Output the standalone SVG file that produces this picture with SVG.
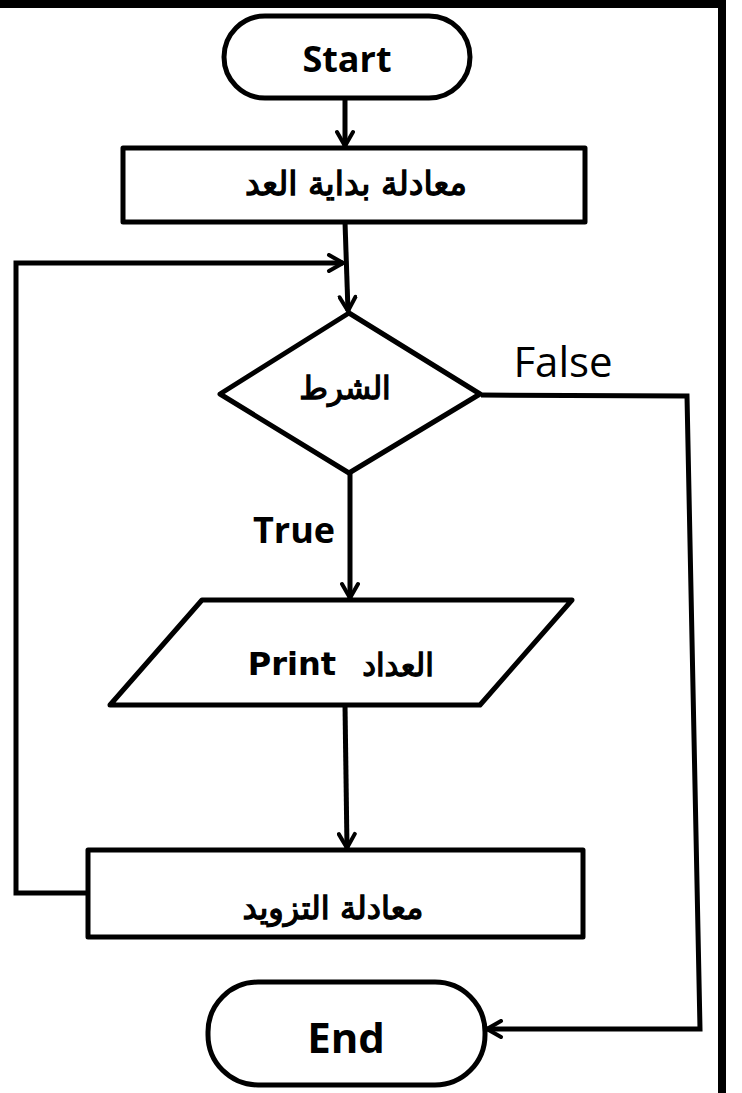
<svg xmlns="http://www.w3.org/2000/svg" width="742" height="1093" viewBox="0 0 742 1093">
<style>
.shape{fill:#fff;stroke:#000;stroke-width:5;stroke-linejoin:round}
.conn{fill:none;stroke:#000;stroke-width:5;stroke-linejoin:miter}
.lat{font-family:"Open Sans","Liberation Sans",sans-serif;font-weight:bold;fill:#000;text-anchor:middle}
.ar{font-family:"DejaVu Sans","Noto Sans",sans-serif;font-weight:normal;fill:#000;stroke:#000;stroke-width:1.3;text-anchor:middle}
.pr{font-family:"DejaVu Sans",sans-serif;font-weight:bold;fill:#000;text-anchor:middle}
</style>
<defs>
<marker id="arr" viewBox="0 0 20 20" refX="18" refY="10" markerWidth="20" markerHeight="20" markerUnits="userSpaceOnUse" orient="auto">
<path d="M4,2 L18,10 L4,18" fill="none" stroke="#000" stroke-width="4" stroke-linecap="round" stroke-linejoin="miter"/>
</marker>
</defs>
<rect width="742" height="1093" fill="#fff"/>
<g id="frame">
<rect x="0" y="0" width="726" height="8" fill="#000"/>
<rect x="718" y="0" width="8" height="1093" fill="#000"/>
</g>
<g id="connectors">
<path class="conn" d="M345,97 L345,146" marker-end="url(#arr)"/>
<path class="conn" d="M345,222 L348,311" marker-end="url(#arr)"/>
<path class="conn" d="M88,893 L16,893 L16,263 L343,263" marker-end="url(#arr)"/>
<path class="conn" d="M350,473 L350,598" marker-end="url(#arr)"/>
<path class="conn" d="M345,705 L347,848" marker-end="url(#arr)"/>
<path class="conn" d="M481,395 L687,396 L700,1029 L487,1029" marker-end="url(#arr)"/>
<text x="563" y="377" font-family="'Open Sans','Liberation Sans',sans-serif" font-size="42" text-anchor="middle" fill="#000">False</text>
<text x="294" y="543" class="lat" font-size="36">True</text>
</g>
<g id="start">
<rect class="shape" x="224" y="16" width="246" height="82" rx="41" ry="41"/>
<text x="347" y="72" class="lat" font-size="36">Start</text>
</g>
<g id="init">
<rect class="shape" x="123" y="148" width="462" height="74"/>
<text x="356" y="195" class="ar" font-size="33">معادلة بداية العد</text>
</g>
<g id="condition">
<polygon class="shape" points="349,313 480,394 349,473 220,394"/>
<text x="345" y="399" class="ar" font-size="31">الشرط</text>
</g>
<g id="print">
<polygon class="shape" points="202,600 572,600 480,705 110,705"/>
<text x="292" y="675" class="pr" font-size="32">Print</text>
<text x="398" y="676" class="ar" font-size="31">العداد</text>
</g>
<g id="increment">
<rect class="shape" x="88" y="850" width="495" height="87"/>
<text x="333" y="919" class="ar" font-size="32">معادلة التزويد</text>
</g>
<g id="end">
<rect class="shape" x="208" y="982" width="277" height="103" rx="50" ry="50"/>
<text x="346" y="1053" class="lat" font-size="42">End</text>
</g>
</svg>
